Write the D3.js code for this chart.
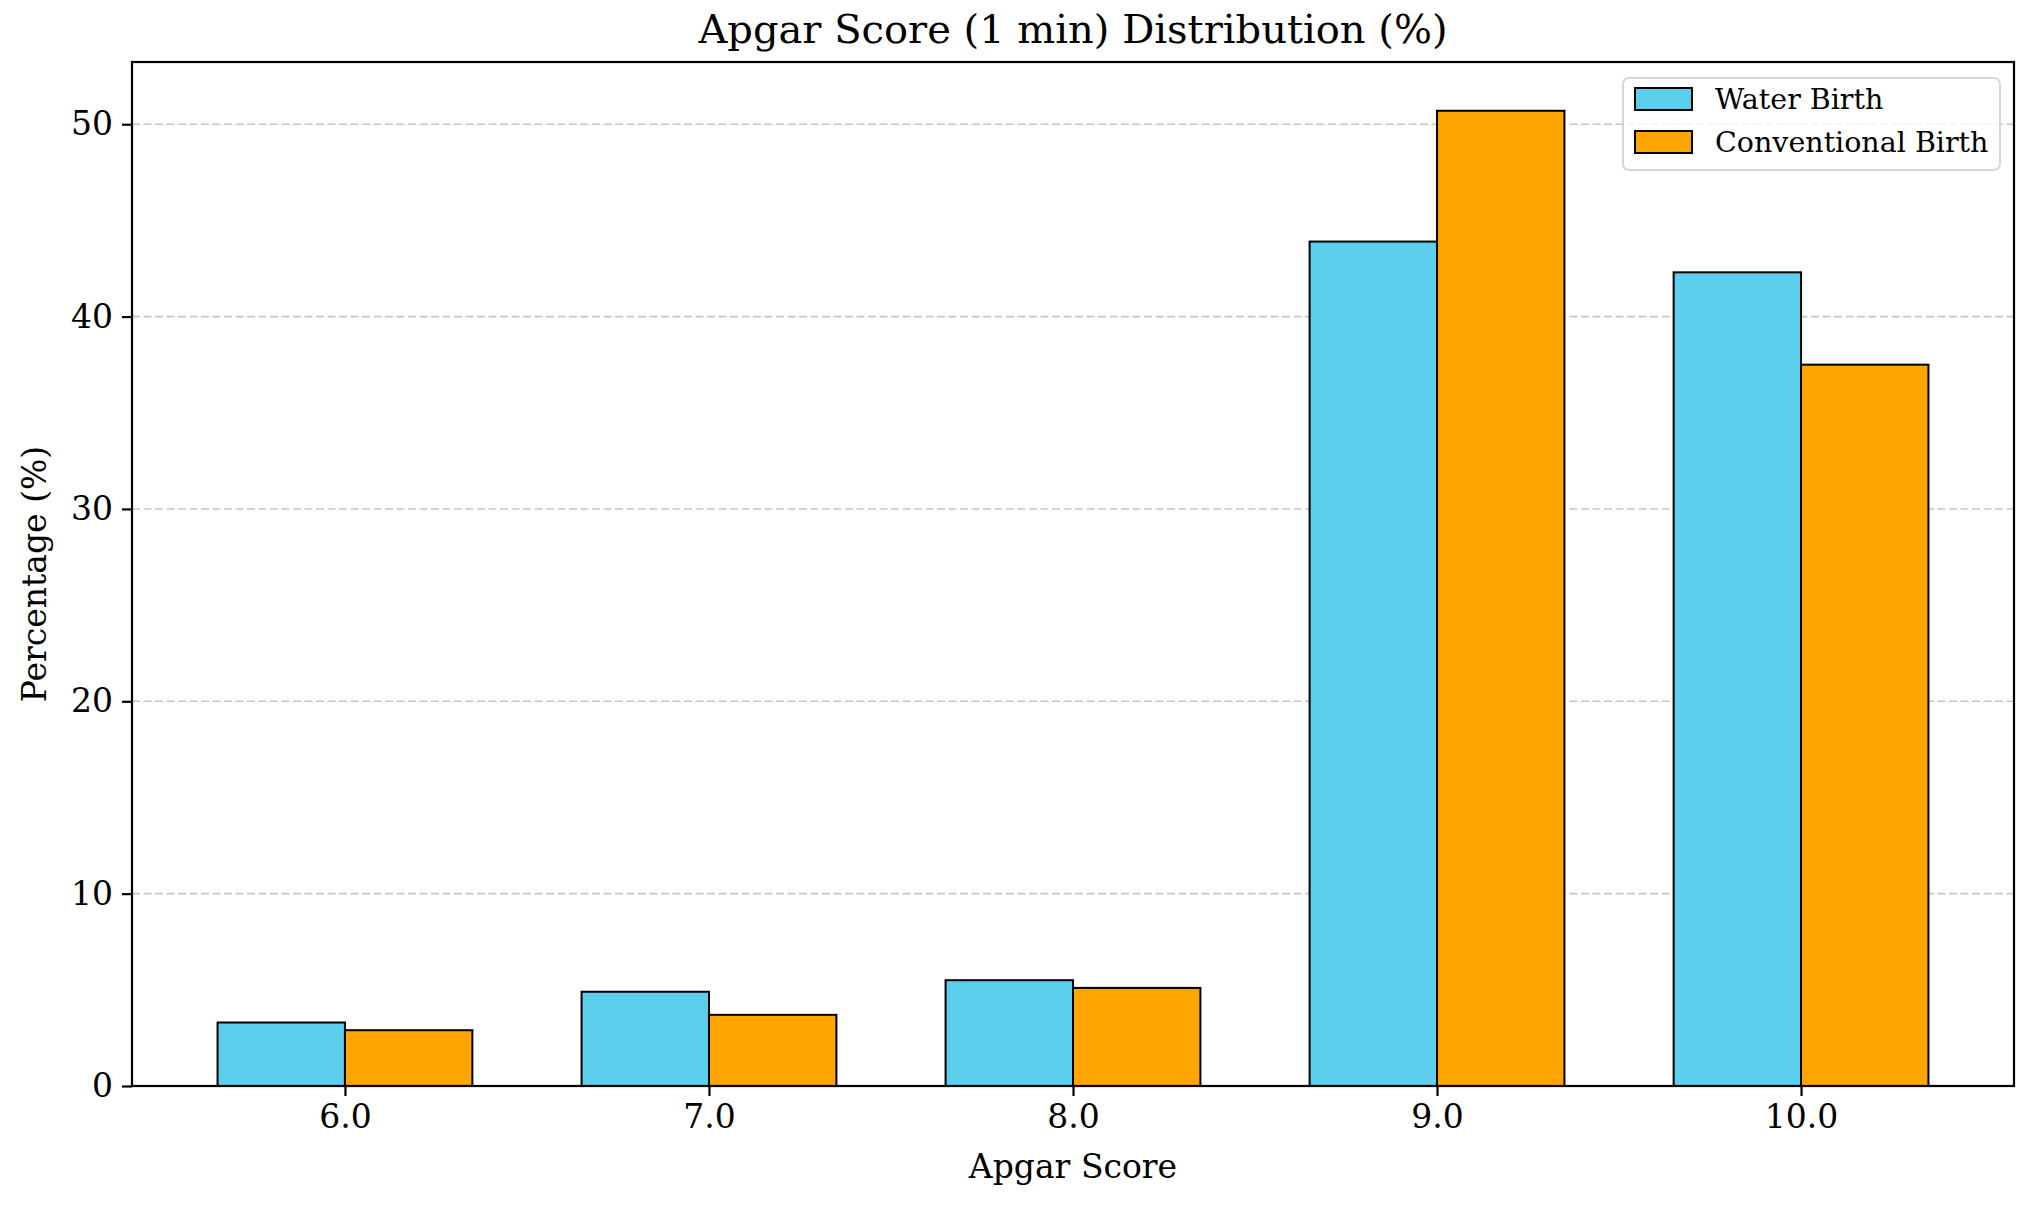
<!DOCTYPE html>
<html>
<head>
<meta charset="utf-8">
<script src="https://cdn.jsdelivr.net/npm/d3@7"></script>
<style>
  body { margin: 0; background: #fff; }
  svg { display: block; font-family: "DejaVu Serif", serif; }
</style>
</head>
<body>
<svg id="chart" width="2030" height="1205"></svg>
<script>
// Chart data
const scores = [6, 7, 8, 9, 10];
const scoreLabels = ["6.0", "7.0", "8.0", "9.0", "10.0"];
const waterBirth = [3.3, 4.9, 5.5, 43.9, 42.3];
const conventionalBirth = [2.9, 3.7, 5.1, 50.7, 37.5];
const yTicks = [0, 10, 20, 30, 40, 50];
const seriesNames = ["Water Birth", "Conventional Birth"];
const seriesColors = ["#5bcfec", "#ffa500"];

const svg = d3.select("#chart");
const margin = { top: 62, right: 16, bottom: 119, left: 132 };
const width = 2030 - margin.left - margin.right;
const height = 1205 - margin.top - margin.bottom;
const barWidth = 0.35;

const x = d3.scaleLinear()
  .domain([6 - barWidth - 0.235, 10 + barWidth + 0.235])
  .range([0, width]);

const yMax = d3.max(waterBirth.concat(conventionalBirth)) * 1.05;
const y = d3.scaleLinear()
  .domain([0, yMax])
  .range([height, 0]);

const chart = svg.append("g")
  .attr("transform", `translate(${margin.left}, ${margin.top})`);

// Grid lines (y only)
chart.append("g")
  .selectAll("line")
  .data(yTicks)
  .enter()
  .append("line")
  .attr("x1", 0)
  .attr("x2", width)
  .attr("y1", d => y(d))
  .attr("y2", d => y(d))
  .attr("stroke", "#c6c6c6")
  .attr("stroke-width", 1.6)
  .attr("stroke-dasharray", "8,3.5");

// Bars
const series = [waterBirth, conventionalBirth];
series.forEach((values, si) => {
  chart.append("g")
    .selectAll("rect")
    .data(values)
    .enter()
    .append("rect")
    .attr("x", (d, i) => x(scores[i] + (si === 0 ? -barWidth : 0)))
    .attr("y", d => y(d))
    .attr("width", (d, i) => x(scores[i] + barWidth) - x(scores[i]))
    .attr("height", d => y(0) - y(d))
    .attr("fill", seriesColors[si])
    .attr("stroke", "#000")
    .attr("stroke-width", 2);
});

// Axes
const xAxis = chart.append("g")
  .attr("transform", `translate(0, ${height})`)
  .call(d3.axisBottom(x)
    .tickValues(scores)
    .tickFormat((d, i) => scoreLabels[i])
    .tickSizeInner(10)
    .tickSizeOuter(0)
    .tickPadding(9));

const yAxis = chart.append("g")
  .call(d3.axisLeft(y)
    .tickValues(yTicks)
    .tickSizeInner(10)
    .tickSizeOuter(0)
    .tickPadding(9));

[xAxis, yAxis].forEach(ax => {
  ax.select(".domain").remove();
  ax.selectAll(".tick line").attr("stroke", "#000").attr("stroke-width", 2.2);
  ax.selectAll(".tick text")
    .attr("fill", "#000")
    .attr("font-family", "DejaVu Serif")
    .attr("font-size", "33px");
});

// Frame (spines)
chart.append("rect")
  .attr("x", 0)
  .attr("y", 0)
  .attr("width", width)
  .attr("height", height)
  .attr("fill", "none")
  .attr("stroke", "#000")
  .attr("stroke-width", 2.2);

// Title and axis labels
svg.append("text")
  .attr("x", margin.left + width / 2)
  .attr("y", 43)
  .attr("text-anchor", "middle")
  .attr("font-size", "40px")
  .text("Apgar Score (1 min) Distribution (%)");

svg.append("text")
  .attr("x", margin.left + width / 2)
  .attr("y", 1178)
  .attr("text-anchor", "middle")
  .attr("font-size", "33px")
  .text("Apgar Score");

svg.append("text")
  .attr("transform", `translate(46, ${margin.top + height / 2}) rotate(-90)`)
  .attr("text-anchor", "middle")
  .attr("font-size", "33px")
  .text("Percentage (%)");

// Legend
const legend = svg.append("g")
  .attr("transform", "translate(1623, 78)");

legend.append("rect")
  .attr("width", 377)
  .attr("height", 92)
  .attr("rx", 6)
  .attr("fill", "#fff")
  .attr("fill-opacity", 0.8)
  .attr("stroke", "#d6d6d6")
  .attr("stroke-width", 2);

const legendItems = legend.selectAll(".legend-item")
  .data(seriesNames)
  .enter()
  .append("g")
  .attr("class", "legend-item")
  .attr("transform", (d, i) => `translate(12, ${10 + i * 43})`);

legendItems.append("rect")
  .attr("width", 57)
  .attr("height", 22)
  .attr("fill", (d, i) => seriesColors[i])
  .attr("stroke", "#000")
  .attr("stroke-width", 2);

legendItems.append("text")
  .attr("x", 80)
  .attr("y", 21)
  .attr("font-size", "28.5px")
  .text(d => d);
</script>
</body>
</html>
